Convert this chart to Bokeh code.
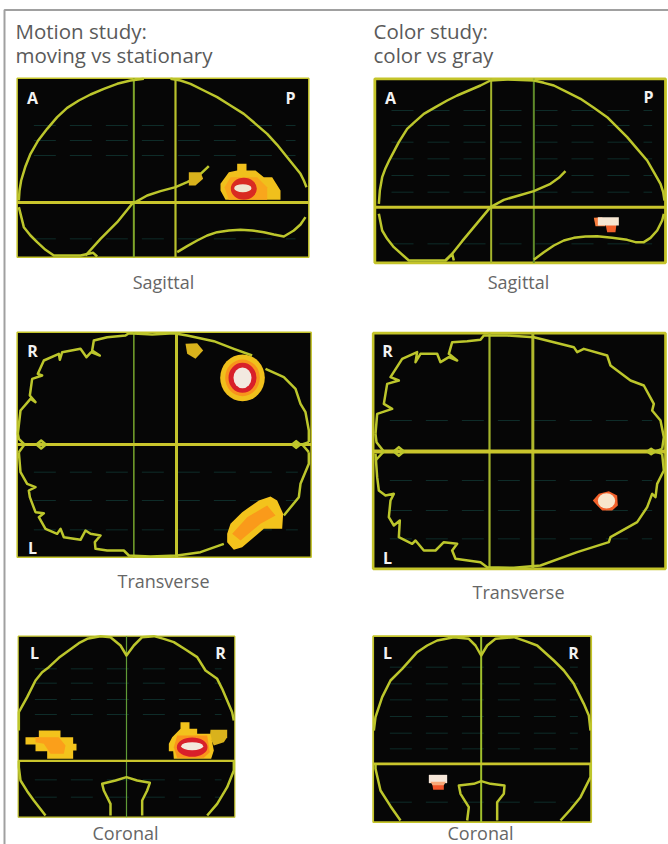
from bokeh.plotting import figure
from bokeh.models import Range1d
from bokeh.embed import file_html
from bokeh.resources import INLINE
from bokeh.core.properties import value

# ---------- traced outlines, in 3x crop coordinates of each panel ----------
sag_l_top = [[55,600,57,570,62,540,75,497,90,460,113,420,140,385,170,350,200,322,235,300,270,282,310,265,350,250,390,240,430,235],
             [510,235,540,240,570,250,610,270,650,290,690,315,730,340,765,370,800,400,830,433,860,470,880,495,900,520,910,540,918,560],
             [55,620,70,680,90,705,110,725,135,748,160,765,240,765,278,757,290,768],
             [255,765,300,715,350,665,395,610,440,585,480,572,525,560,560,545,590,530,625,497],
             [530,755,560,737,590,720,620,705,650,695,685,690,720,688,755,690,790,695,820,702,850,708,880,690,900,672,915,650]]
tra_l_top = [[52,340,60,270,90,235,105,245,88,225,95,175,125,165,112,160,130,120,175,100,178,118,185,95,240,85,258,110,272,95,298,105,275,90,280,60,320,50,375,45,385,38,455,42,520,38,560,45,640,62,700,85,755,105],
             [795,145,850,170,885,205,900,250,915,275,925,330,925,365],
             [925,395,925,430,900,490,895,530,850,585],
             [670,670,600,695,530,705,450,708,385,705,370,690,320,690,285,685,283,665,300,645,270,640,255,630,240,658,190,650,180,625,170,640,135,625,115,590,130,578,105,575,88,530,85,510,105,500,80,490,60,455,55,395],
             [52,340,55,355,72,372,55,395],
             [925,365,905,372,925,395],
             [108,372,122,360,136,372,122,384,108,372],
             [875,372,887,362,899,372,887,382,875,372]]
cor_l_top = [[55,330,55,275,80,230,105,180,125,155,145,140,175,112,205,90,235,68,260,55,300,47,330,50,360,75,378,105,400,75,425,50,460,47,490,55,520,65,555,87,590,110,615,150,650,175,665,205,680,240,695,275,700,300],
             [55,421,55,440,60,480,80,512,100,540,135,585],
             [700,421,700,450,680,500,650,550,620,585],
             [330,585,330,550,310,510,305,490,345,480,378,470,410,480,448,487,440,510,425,540,425,585]]
sag_r_top = [[115,610,118,570,125,530,135,503,147,478,175,425,200,385,222,365,250,340,285,320,320,300,350,285,385,270,420,255,450,240,500,237,580,240],
             [580,240,610,247,640,255,680,275,720,295,760,322,800,350,830,380,860,410,890,445,920,480,940,515,960,550,968,575,972,600],
             [115,640,125,690,140,715,160,740,205,780,315,780,335,760,340,780],
             [315,780,335,760,365,722,400,680,425,650,450,620,490,598,535,585,580,572,630,550,655,532,675,512],
             [580,778,610,755,640,735,670,720,700,712,735,708,770,707,815,712,860,718,885,725,910,725,930,712,950,690,965,660,970,640]]
tra_r_top = [[105,340,110,280,155,265,130,250,140,190,175,180,150,170,185,115,230,95,225,125,240,100,290,100,300,125,325,110,350,120,325,100,335,65,380,62,420,58,430,45,500,45,580,50,640,65,700,80,710,95,730,85,800,105,810,135,870,180,910,195,940,250,935,270,960,300,970,350,965,385],
             [965,400,970,450,950,490,945,530,935,520,920,560,890,605,810,650,805,665,710,695,600,735,520,742,440,740,420,725,345,715,335,690,350,670,310,665,285,690,250,690,225,660,215,670,175,650,178,600,160,615,145,590,150,540,160,520,135,525,115,510,110,470,105,400],
             [105,340,108,365,130,393,105,420],
             [965,385,945,393,965,400],
             [160,393,175,380,190,393,175,406,160,393],
             [920,393,932,385,944,393,932,401,920,393]]
cor_r_top = [[100,330,105,290,125,230,150,180,185,145,230,95,260,75,290,60,340,50,385,55,405,75,422,105,440,75,465,55,520,50,555,62,590,75,640,120,670,150,700,190,730,250,745,285,750,330],
             [105,430,105,445,120,510,150,557,180,600],
             [750,430,750,470,720,530,690,567,660,600],
             [380,600,385,560,360,520,355,495,400,490,422,482,450,490,492,495,490,520,470,545,470,600]]

# activation blobs: polygons
sag_l_polys = [("#d9b21c",[565,515,600,515,608,535,585,555,565,555]),
               ("#f0c01c",[710,490,738,490,738,510,765,510,790,530,815,530,840,570,840,598,675,598,660,570,660,550,685,515,710,510]),
               ("#f9a61c",[690,530,770,530,800,560,800,598,685,598,672,560])]
sag_l_ells = [("#d92b22",730,565,78,66),("#f0e6d0",727,563,52,24)]
tra_l_polys = [("#d9b21c",[555,70,590,68,608,90,585,115,560,100]),
               ("#f3c31c",[680,640,690,610,725,575,775,540,810,528,830,540,848,580,845,625,790,625,725,680,700,688,680,665]),
               ("#fa9a1a",[695,640,740,590,800,555,825,585,780,610,720,660])]
tra_l_ells = [("#f0c01c",726,172,134,140),("#f8941c",726,172,104,110),("#d8202a",726,172,84,90),("#f2e9e0",726,172,54,62)]
cor_l_polys = [("#f3c31c",[75,350,115,350,115,330,180,330,180,350,218,350,218,370,228,370,228,390,218,390,218,415,140,415,140,392,105,392,105,372,75,372]),
               ("#fb9f1a",[105,350,175,350,195,375,190,400,150,400,130,370,105,365]),
               ("#d9b21c",[630,328,680,328,680,350,670,365,640,375,628,350]),
               ("#f3c31c",[540,305,567,305,567,325,590,325,590,340,630,340,640,390,632,415,520,415,518,392,505,392,505,370,515,350,540,325]),
               ("#fa941c",[530,345,620,345,628,395,610,412,530,412,520,380])]
cor_l_ells = [("#d8202a",575,380,92,58),("#f3e9dc",575,377,66,24)]
sag_r_polys = [("#f2602a",[795,670,828,670,825,695,800,695]),
               ("#f97c3c",[760,652,785,650,795,677,765,677]),
               ("#f6e6d2",[772,650,835,650,835,675,772,675])]
sag_r_ells = []
tra_r_polys = [("#f2602a",[757,540,775,520,805,512,830,525,832,555,815,570,785,570,770,555])]
tra_r_ells = [("#f8e6cc",798,541,52,46)]
cor_r_polys = [("#f6e6d8",[265,463,320,463,320,488,265,488]),
               ("#f2562a",[275,488,310,488,310,508,278,508]),
               ("#f8a878",[270,484,316,484,310,494,276,494])]
cor_r_ells = []

# faint scanner-grid rows (crop coordinates)
sag_l_rows = [375,420,465,715]
tra_l_rows = [455,540,628]
cor_l_rows = [145,188,237,282,478,530]
sag_r_rows = [330,375,425,475,525,575,730]
tra_r_rows = [300,480,570,655]
cor_r_rows = [140,190,238,288,338,385,545]

# frames: left, right, top, bottom; frame width; crosshair x1, x2, y (crop coords); crop origin
sag_l = dict(o=(0,0),     f=(50,925,233,770), fw=1.5, v=[(400,"#7fa52a",2),(525,"#b8c02c",2.2)], h=606, h_w=3, lines=sag_l_top, polys=sag_l_polys, ells=sag_l_ells, rows=sag_l_rows)
tra_l = dict(o=(0,320),   f=(50,932,35,710),  fw=1.5, v=[(400,"#6f9a2a",1.6),(528,"#c3c42c",3)],  h=372, h_w=3, lines=tra_l_top, polys=tra_l_polys, ells=tra_l_ells, rows=tra_l_rows)
cor_l = dict(o=(0,620),   f=(53,703,47,590),  fw=1.2, v=[(378,"#5f9a36",1.2)],                    h=421, h_w=2.4, lines=cor_l_top, polys=cor_l_polys, ells=cor_l_ells, rows=cor_l_rows)
sag_r = dict(o=(340,0),   f=(103,975,235,787),fw=2.8, v=[(452,"#a4b42c",2),(580,"#5f8a2a",2)],    h=620, h_w=3, lines=sag_r_top, polys=sag_r_polys, ells=sag_r_ells, rows=sag_r_rows)
tra_r = dict(o=(340,320), f=(98,975,38,745),  fw=2.6, v=[(447,"#a4b42c",2.2),(577,"#b0b82c",3)],   h=393, h_w=4, lines=tra_r_top, polys=tra_r_polys, ells=tra_r_ells, rows=tra_r_rows)
cor_r = dict(o=(340,620), f=(98,752,47,605),  fw=1.8, v=[(422,"#a0c02c",2)],                       h=430, h_w=2.6, lines=cor_r_top, polys=cor_r_polys, ells=cor_r_ells, rows=cor_r_rows)
panels = [sag_l, tra_l, cor_l, sag_r, tra_r, cor_r]

titles = [("Motion study:",15,30),("moving vs stationary",15,54),("Color study:",373,30),("color vs gray",373,54)]
captions = [("Sagittal",163,281),("Transverse",163,580),("Coronal",125,832),("Sagittal",518,281),("Transverse",518,591),("Coronal",480,832)]
letters = [("A",32,97),("P",290,97),("R",32,350),("L",32,547),("L",34,652),("R",220,652),
           ("A",390,97),("P",648,96),("R",387,350),("L",387,557),("L",387,652),("R",573,652)]

FRAME = "#c4c42a"
LINE = "#bcc62c"

p = figure(width=668, height=844, x_range=Range1d(0,668), y_range=Range1d(844,0),
           output_backend="svg", toolbar_location=None, min_border=0,
           margin=(0,0,0,0), outline_line_color=None, background_fill_color="white")
p.axis.visible = False
p.grid.visible = False

# page rule
p.line([4,4,668],[844,9.5,9.5], line_color="#a0a0a0", line_width=2)

for d in panels:
    ox, oy = d["o"]
    X = lambda u: ox + u/3
    Y = lambda v: oy + v/3
    l, r, t, b = d["f"]
    p.quad(left=X(l), right=X(r), top=Y(t), bottom=Y(b), fill_color="#060606", line_color=FRAME, line_width=d["fw"])
    for v in d["rows"]:
        p.line([X(l+50),X(r-40)],[Y(v),Y(v)], line_color="#0e2c29", line_width=1, line_dash="22 14")
    for u, c, w in d["v"]:
        p.line([X(u),X(u)],[Y(t),Y(b)], line_color=c, line_width=w)
    p.line([X(l),X(r)],[Y(d["h"]),Y(d["h"])], line_color="#c9c52c", line_width=d["h_w"])
    for pts in d["lines"]:
        p.line([X(a) for a in pts[0::2]],[Y(a) for a in pts[1::2]], line_color=LINE, line_width=2.5, line_join="round")
    for c, pts in d["polys"]:
        p.patch([X(a) for a in pts[0::2]],[Y(a) for a in pts[1::2]], fill_color=c, line_color=None)
    for c, u, v, w, h in d["ells"]:
        p.ellipse(x=X(u), y=Y(v), width=w/3, height=h/3, fill_color=c, line_color=None)

p.text([a[1] for a in titles],[a[2] for a in titles],text=[a[0] for a in titles],
       text_font=value("Open Sans"), text_font_size="20.5px", text_color="#5a5a5a",
       text_align="left", text_baseline="alphabetic")
p.text([a[1] for a in captions],[a[2] for a in captions],text=[a[0] for a in captions],
       text_font=value("Open Sans"), text_font_size="18px", text_color="#666666",
       text_align="center", text_baseline="middle")
p.text([a[1] for a in letters],[a[2] for a in letters],text=[a[0] for a in letters],
       text_font=value("Open Sans"), text_font_size="16px", text_font_style="bold", text_color="#f2f2f2",
       text_align="center", text_baseline="middle")

open("out.html","w").write(file_html(p, INLINE))
